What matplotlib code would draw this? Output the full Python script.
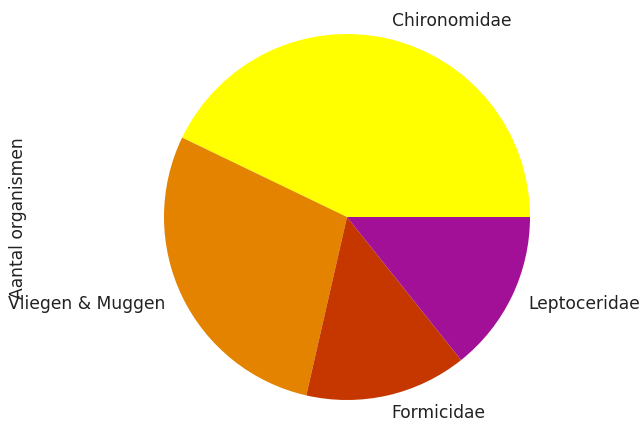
import matplotlib
matplotlib.use("Agg")
from matplotlib import pyplot as plt

# Aantal organismen per familie
families = ['Chironomidae', 'Vliegen & Muggen', 'Formicidae', 'Leptoceridae']
counts = [3, 2, 1, 1]
colors = [plt.cm.gnuplot(v) for v in (1.0, 0.8, 0.6, 0.4)]

fig = plt.figure(figsize=(6.42, 4.21), dpi=100)
ax = fig.add_axes([0, 0, 1, 1])

ax.pie(counts, labels=families, colors=colors, startangle=0,
       labeldistance=1.1, textprops={'fontsize': 12.3, 'color': '#222222'})

# pie centre at (347, 217) px, radius 183 px
r = 183.0
ax.set_xlim(-347 / r, (642 - 347) / r)
ax.set_ylim(-(421 - 217) / r, 217 / r)
ax.set_aspect('auto')

ax.set_ylabel('Aantal organismen', fontsize=12.3, color='#222222')
ax.yaxis.set_label_coords(18 / 642, (421 - 218) / 421)
ax.yaxis.label.set_verticalalignment('center')
ax.set_xticks([])
ax.set_yticks([])
for s in ax.spines.values():
    s.set_visible(False)

fig.savefig('out.png', dpi=100)
